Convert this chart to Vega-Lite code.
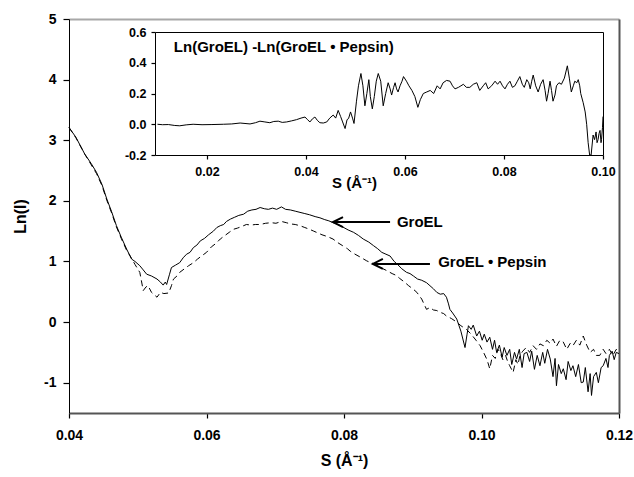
{
  "$schema": "https://vega.github.io/schema/vega-lite/v6.json",
  "width": 550,
  "height": 394,
  "autosize": "none",
  "padding": {"left": 69, "top": 19, "right": 15, "bottom": 64},
  "background": "white",
  "config": {
    "view": {"stroke": null},
    "font": "Liberation Sans",
    "axis": {
      "grid": false,
      "labelFont": "Liberation Sans",
      "labelFontWeight": "bold",
      "labelColor": "black",
      "titleFont": "Liberation Sans",
      "titleFontWeight": "bold",
      "titleColor": "black",
      "labelFlush": false,
      "labelOverlap": false,
      "domainColor": "black",
      "tickColor": "black",
      "tickWidth": 1.2,
      "tickOpacity": 1
    }
  },
  "datasets": {
    "groel": [
      {"s":0.0400,"lnI":3.21},{"s":0.0410,"lnI":3.05},{"s":0.0423,"lnI":2.77},{"s":0.0432,"lnI":2.62},{"s":0.0440,"lnI":2.47},
      {"s":0.0448,"lnI":2.27},{"s":0.0455,"lnI":2.03},{"s":0.0462,"lnI":1.82},{"s":0.0469,"lnI":1.59},{"s":0.0476,"lnI":1.40},
      {"s":0.0484,"lnI":1.20},{"s":0.0491,"lnI":1.04},{"s":0.0496,"lnI":1.00},{"s":0.0503,"lnI":0.93},{"s":0.0508,"lnI":0.86},
      {"s":0.0513,"lnI":0.79},{"s":0.0520,"lnI":0.76},{"s":0.0528,"lnI":0.71},{"s":0.0533,"lnI":0.66},{"s":0.0537,"lnI":0.61},
      {"s":0.0540,"lnI":0.66},{"s":0.0542,"lnI":0.62},{"s":0.0546,"lnI":0.78},{"s":0.0549,"lnI":0.90},{"s":0.0555,"lnI":0.94},
      {"s":0.0561,"lnI":0.98},{"s":0.0566,"lnI":1.06},{"s":0.0571,"lnI":1.12},{"s":0.0576,"lnI":1.15},{"s":0.0581,"lnI":1.23},
      {"s":0.0586,"lnI":1.27},{"s":0.0591,"lnI":1.34},{"s":0.0597,"lnI":1.38},{"s":0.0603,"lnI":1.44},{"s":0.0610,"lnI":1.50},
      {"s":0.0615,"lnI":1.56},{"s":0.0620,"lnI":1.59},{"s":0.0625,"lnI":1.61},{"s":0.0629,"lnI":1.66},{"s":0.0635,"lnI":1.70},
      {"s":0.0641,"lnI":1.73},{"s":0.0647,"lnI":1.76},{"s":0.0654,"lnI":1.78},{"s":0.0660,"lnI":1.83},{"s":0.0666,"lnI":1.85},
      {"s":0.0672,"lnI":1.86},{"s":0.0678,"lnI":1.89},{"s":0.0684,"lnI":1.87},{"s":0.0690,"lnI":1.86},{"s":0.0696,"lnI":1.88},
      {"s":0.0702,"lnI":1.86},{"s":0.0709,"lnI":1.90},{"s":0.0715,"lnI":1.86},{"s":0.0722,"lnI":1.85},{"s":0.0729,"lnI":1.83},
      {"s":0.0736,"lnI":1.81},{"s":0.0743,"lnI":1.79},{"s":0.0750,"lnI":1.77},{"s":0.0758,"lnI":1.74},{"s":0.0765,"lnI":1.72},
      {"s":0.0772,"lnI":1.69},{"s":0.0778,"lnI":1.67},{"s":0.0784,"lnI":1.64},{"s":0.0791,"lnI":1.61},{"s":0.0798,"lnI":1.57},
      {"s":0.0806,"lnI":1.52},{"s":0.0814,"lnI":1.48},{"s":0.0821,"lnI":1.43},{"s":0.0828,"lnI":1.37},{"s":0.0836,"lnI":1.32},
      {"s":0.0843,"lnI":1.26},{"s":0.0849,"lnI":1.21},{"s":0.0855,"lnI":1.15},{"s":0.0861,"lnI":1.12},{"s":0.0867,"lnI":1.09},
      {"s":0.0873,"lnI":1.00},{"s":0.0878,"lnI":0.95},{"s":0.0884,"lnI":0.88},{"s":0.0891,"lnI":0.82},{"s":0.0896,"lnI":0.80},
      {"s":0.0901,"lnI":0.76},{"s":0.0907,"lnI":0.71},{"s":0.0913,"lnI":0.69},{"s":0.0920,"lnI":0.65},{"s":0.0925,"lnI":0.60},
      {"s":0.0930,"lnI":0.55},{"s":0.0935,"lnI":0.49},{"s":0.0940,"lnI":0.46},{"s":0.0945,"lnI":0.47},{"s":0.0949,"lnI":0.41},
      {"s":0.0952,"lnI":0.30},{"s":0.0954,"lnI":0.21},{"s":0.0958,"lnI":0.15},{"s":0.0961,"lnI":0.10},{"s":0.0964,"lnI":0.05},
      {"s":0.0970,"lnI":-0.15},{"s":0.0976,"lnI":-0.42},{"s":0.0979,"lnI":-0.20},{"s":0.0981,"lnI":-0.06},{"s":0.0985,"lnI":-0.12},
      {"s":0.0988,"lnI":-0.05},{"s":0.0993,"lnI":-0.23},{"s":0.0997,"lnI":-0.15},{"s":0.1001,"lnI":-0.30},{"s":0.1004,"lnI":-0.20},
      {"s":0.1008,"lnI":-0.33},{"s":0.1012,"lnI":-0.25},{"s":0.1016,"lnI":-0.45},{"s":0.1019,"lnI":-0.30},{"s":0.1022,"lnI":-0.50},
      {"s":0.1026,"lnI":-0.38},{"s":0.1030,"lnI":-0.58},{"s":0.1033,"lnI":-0.42},{"s":0.1037,"lnI":-0.55},{"s":0.1041,"lnI":-0.45},
      {"s":0.1044,"lnI":-0.70},{"s":0.1048,"lnI":-0.50},{"s":0.1051,"lnI":-0.61},{"s":0.1055,"lnI":-0.45},{"s":0.1059,"lnI":-0.75},
      {"s":0.1062,"lnI":-0.52},{"s":0.1066,"lnI":-0.50},{"s":0.1070,"lnI":-0.65},{"s":0.1073,"lnI":-0.48},{"s":0.1077,"lnI":-0.78},
      {"s":0.1081,"lnI":-0.55},{"s":0.1085,"lnI":-0.72},{"s":0.1089,"lnI":-0.50},{"s":0.1092,"lnI":-0.68},{"s":0.1096,"lnI":-0.45},
      {"s":0.1100,"lnI":-0.61},{"s":0.1104,"lnI":-0.90},{"s":0.1107,"lnI":-0.60},{"s":0.1109,"lnI":-1.05},{"s":0.1112,"lnI":-0.70},
      {"s":0.1116,"lnI":-0.85},{"s":0.1119,"lnI":-0.77},{"s":0.1123,"lnI":-0.95},{"s":0.1126,"lnI":-0.65},{"s":0.1130,"lnI":-0.80},
      {"s":0.1133,"lnI":-0.72},{"s":0.1137,"lnI":-0.90},{"s":0.1141,"lnI":-0.70},{"s":0.1145,"lnI":-1.00},{"s":0.1148,"lnI":-0.99},
      {"s":0.1151,"lnI":-0.75},{"s":0.1155,"lnI":-1.15},{"s":0.1158,"lnI":-0.85},{"s":0.1160,"lnI":-1.21},{"s":0.1163,"lnI":-0.90},
      {"s":0.1167,"lnI":-0.83},{"s":0.1170,"lnI":-1.00},{"s":0.1174,"lnI":-0.75},{"s":0.1177,"lnI":-0.72},{"s":0.1181,"lnI":-0.60},
      {"s":0.1184,"lnI":-0.75},{"s":0.1186,"lnI":-0.55},{"s":0.1190,"lnI":-0.48},{"s":0.1193,"lnI":-0.62},{"s":0.1196,"lnI":-0.50},
      {"s":0.1200,"lnI":-0.52}
    ],
    "pepsin": [
      {"s":0.0400,"lnI":3.21},{"s":0.0410,"lnI":3.04},{"s":0.0423,"lnI":2.77},{"s":0.0432,"lnI":2.60},{"s":0.0440,"lnI":2.45},
      {"s":0.0448,"lnI":2.25},{"s":0.0455,"lnI":2.01},{"s":0.0462,"lnI":1.80},{"s":0.0469,"lnI":1.57},{"s":0.0476,"lnI":1.38},
      {"s":0.0484,"lnI":1.18},{"s":0.0489,"lnI":1.09},{"s":0.0496,"lnI":0.95},{"s":0.0503,"lnI":0.82},{"s":0.0508,"lnI":0.52},
      {"s":0.0512,"lnI":0.58},{"s":0.0515,"lnI":0.60},{"s":0.0520,"lnI":0.49},{"s":0.0524,"lnI":0.45},{"s":0.0528,"lnI":0.41},
      {"s":0.0533,"lnI":0.49},{"s":0.0538,"lnI":0.47},{"s":0.0545,"lnI":0.48},{"s":0.0549,"lnI":0.60},{"s":0.0552,"lnI":0.71},
      {"s":0.0557,"lnI":0.76},{"s":0.0561,"lnI":0.82},{"s":0.0568,"lnI":0.88},{"s":0.0574,"lnI":0.93},{"s":0.0581,"lnI":0.98},
      {"s":0.0587,"lnI":1.04},{"s":0.0594,"lnI":1.10},{"s":0.0600,"lnI":1.15},{"s":0.0607,"lnI":1.24},{"s":0.0614,"lnI":1.30},
      {"s":0.0620,"lnI":1.37},{"s":0.0627,"lnI":1.43},{"s":0.0633,"lnI":1.48},{"s":0.0639,"lnI":1.53},{"s":0.0645,"lnI":1.55},
      {"s":0.0652,"lnI":1.58},{"s":0.0658,"lnI":1.61},{"s":0.0665,"lnI":1.60},{"s":0.0671,"lnI":1.61},{"s":0.0678,"lnI":1.61},
      {"s":0.0686,"lnI":1.63},{"s":0.0694,"lnI":1.64},{"s":0.0701,"lnI":1.63},{"s":0.0709,"lnI":1.66},{"s":0.0716,"lnI":1.64},
      {"s":0.0722,"lnI":1.62},{"s":0.0729,"lnI":1.61},{"s":0.0736,"lnI":1.59},{"s":0.0743,"lnI":1.56},{"s":0.0750,"lnI":1.53},
      {"s":0.0756,"lnI":1.50},{"s":0.0760,"lnI":1.48},{"s":0.0768,"lnI":1.44},{"s":0.0776,"lnI":1.41},{"s":0.0784,"lnI":1.37},
      {"s":0.0791,"lnI":1.31},{"s":0.0798,"lnI":1.26},{"s":0.0805,"lnI":1.21},{"s":0.0809,"lnI":1.17},{"s":0.0816,"lnI":1.12},
      {"s":0.0824,"lnI":1.07},{"s":0.0833,"lnI":1.01},{"s":0.0839,"lnI":0.98},{"s":0.0845,"lnI":0.96},{"s":0.0853,"lnI":0.90},
      {"s":0.0862,"lnI":0.85},{"s":0.0870,"lnI":0.80},{"s":0.0876,"lnI":0.77},{"s":0.0881,"lnI":0.72},{"s":0.0888,"lnI":0.66},
      {"s":0.0894,"lnI":0.60},{"s":0.0901,"lnI":0.54},{"s":0.0906,"lnI":0.49},{"s":0.0913,"lnI":0.38},{"s":0.0920,"lnI":0.21},
      {"s":0.0925,"lnI":0.24},{"s":0.0930,"lnI":0.20},{"s":0.0935,"lnI":0.19},{"s":0.0940,"lnI":0.16},{"s":0.0945,"lnI":0.14},
      {"s":0.0949,"lnI":0.10},{"s":0.0956,"lnI":0.06},{"s":0.0964,"lnI":0.00},{"s":0.0970,"lnI":-0.06},{"s":0.0978,"lnI":-0.12},
      {"s":0.0985,"lnI":-0.20},{"s":0.0992,"lnI":-0.30},{"s":0.0998,"lnI":-0.39},{"s":0.1003,"lnI":-0.50},{"s":0.1008,"lnI":-0.62},
      {"s":0.1012,"lnI":-0.77},{"s":0.1016,"lnI":-0.55},{"s":0.1020,"lnI":-0.60},{"s":0.1024,"lnI":-0.45},{"s":0.1027,"lnI":-0.50},
      {"s":0.1031,"lnI":-0.62},{"s":0.1035,"lnI":-0.55},{"s":0.1038,"lnI":-0.65},{"s":0.1041,"lnI":-0.72},{"s":0.1046,"lnI":-0.83},
      {"s":0.1050,"lnI":-0.62},{"s":0.1053,"lnI":-0.70},{"s":0.1056,"lnI":-0.55},{"s":0.1060,"lnI":-0.48},{"s":0.1065,"lnI":-0.42},
      {"s":0.1070,"lnI":-0.50},{"s":0.1075,"lnI":-0.39},{"s":0.1080,"lnI":-0.45},{"s":0.1085,"lnI":-0.36},{"s":0.1090,"lnI":-0.39},
      {"s":0.1095,"lnI":-0.30},{"s":0.1100,"lnI":-0.35},{"s":0.1104,"lnI":-0.28},{"s":0.1109,"lnI":-0.40},{"s":0.1114,"lnI":-0.30},
      {"s":0.1119,"lnI":-0.33},{"s":0.1124,"lnI":-0.45},{"s":0.1129,"lnI":-0.35},{"s":0.1133,"lnI":-0.39},{"s":0.1138,"lnI":-0.30},
      {"s":0.1143,"lnI":-0.38},{"s":0.1148,"lnI":-0.23},{"s":0.1153,"lnI":-0.38},{"s":0.1158,"lnI":-0.50},{"s":0.1163,"lnI":-0.45},
      {"s":0.1167,"lnI":-0.55},{"s":0.1172,"lnI":-0.55},{"s":0.1177,"lnI":-0.45},{"s":0.1181,"lnI":-0.52},{"s":0.1186,"lnI":-0.45},
      {"s":0.1191,"lnI":-0.55},{"s":0.1196,"lnI":-0.45},{"s":0.1200,"lnI":-0.48}
    ],
    "diff": [
      {"s":0.0100,"d":0.000},{"s":0.0110,"d":-0.003},{"s":0.0122,"d":-0.002},{"s":0.0135,"d":-0.008},{"s":0.0145,"d":-0.010},
      {"s":0.0158,"d":-0.004},{"s":0.0172,"d":0.000},{"s":0.0190,"d":-0.003},{"s":0.0210,"d":-0.002},{"s":0.0233,"d":0.000},
      {"s":0.0250,"d":0.002},{"s":0.0267,"d":0.008},{"s":0.0287,"d":0.002},{"s":0.0298,"d":0.010},{"s":0.0307,"d":0.020},
      {"s":0.0317,"d":0.015},{"s":0.0327,"d":0.010},{"s":0.0335,"d":0.018},{"s":0.0344,"d":0.020},{"s":0.0352,"d":0.012},
      {"s":0.0361,"d":0.015},{"s":0.0371,"d":0.022},{"s":0.0381,"d":0.030},{"s":0.0390,"d":0.040},{"s":0.0398,"d":0.047},
      {"s":0.0403,"d":0.030},{"s":0.0408,"d":0.015},{"s":0.0413,"d":0.035},{"s":0.0418,"d":0.047},{"s":0.0423,"d":0.025},
      {"s":0.0428,"d":0.010},{"s":0.0435,"d":0.008},{"s":0.0442,"d":0.015},{"s":0.0448,"d":0.040},{"s":0.0455,"d":0.060},
      {"s":0.0460,"d":0.040},{"s":0.0465,"d":0.090},{"s":0.0470,"d":0.050},{"s":0.0474,"d":0.015},{"s":0.0479,"d":-0.028},
      {"s":0.0483,"d":0.030},{"s":0.0486,"d":0.037},{"s":0.0490,"d":0.080},{"s":0.0494,"d":0.040},{"s":0.0497,"d":0.005},
      {"s":0.0502,"d":0.150},{"s":0.0506,"d":0.250},{"s":0.0511,"d":0.330},{"s":0.0515,"d":0.250},{"s":0.0519,"d":0.120},
      {"s":0.0523,"d":0.200},{"s":0.0527,"d":0.290},{"s":0.0530,"d":0.180},{"s":0.0534,"d":0.100},{"s":0.0538,"d":0.180},
      {"s":0.0542,"d":0.280},{"s":0.0546,"d":0.330},{"s":0.0551,"d":0.280},{"s":0.0556,"d":0.120},{"s":0.0561,"d":0.200},
      {"s":0.0566,"d":0.270},{"s":0.0570,"d":0.230},{"s":0.0573,"d":0.190},{"s":0.0577,"d":0.240},{"s":0.0580,"d":0.270},
      {"s":0.0583,"d":0.230},{"s":0.0586,"d":0.210},{"s":0.0590,"d":0.250},{"s":0.0594,"d":0.280},{"s":0.0597,"d":0.310},
      {"s":0.0603,"d":0.280},{"s":0.0608,"d":0.250},{"s":0.0614,"d":0.220},{"s":0.0620,"d":0.180},{"s":0.0626,"d":0.110},
      {"s":0.0631,"d":0.160},{"s":0.0637,"d":0.200},{"s":0.0644,"d":0.210},{"s":0.0651,"d":0.220},{"s":0.0658,"d":0.200},
      {"s":0.0665,"d":0.250},{"s":0.0671,"d":0.230},{"s":0.0677,"d":0.270},{"s":0.0684,"d":0.285},{"s":0.0691,"d":0.280},
      {"s":0.0696,"d":0.250},{"s":0.0701,"d":0.230},{"s":0.0708,"d":0.240},{"s":0.0713,"d":0.250},{"s":0.0718,"d":0.260},
      {"s":0.0724,"d":0.240},{"s":0.0731,"d":0.240},{"s":0.0738,"d":0.260},{"s":0.0745,"d":0.270},{"s":0.0751,"d":0.220},
      {"s":0.0758,"d":0.250},{"s":0.0763,"d":0.270},{"s":0.0768,"d":0.230},{"s":0.0775,"d":0.250},{"s":0.0782,"d":0.280},
      {"s":0.0787,"d":0.260},{"s":0.0792,"d":0.280},{"s":0.0797,"d":0.250},{"s":0.0802,"d":0.230},{"s":0.0807,"d":0.260},
      {"s":0.0812,"d":0.280},{"s":0.0817,"d":0.240},{"s":0.0822,"d":0.250},{"s":0.0827,"d":0.280},{"s":0.0832,"d":0.310},
      {"s":0.0837,"d":0.260},{"s":0.0841,"d":0.240},{"s":0.0846,"d":0.290},{"s":0.0850,"d":0.270},{"s":0.0853,"d":0.230},
      {"s":0.0856,"d":0.280},{"s":0.0859,"d":0.320},{"s":0.0864,"d":0.250},{"s":0.0869,"d":0.210},{"s":0.0874,"d":0.260},
      {"s":0.0879,"d":0.290},{"s":0.0883,"d":0.220},{"s":0.0886,"d":0.150},{"s":0.0889,"d":0.200},{"s":0.0893,"d":0.280},
      {"s":0.0896,"d":0.220},{"s":0.0899,"d":0.150},{"s":0.0903,"d":0.190},{"s":0.0906,"d":0.250},{"s":0.0911,"d":0.270},
      {"s":0.0916,"d":0.260},{"s":0.0922,"d":0.300},{"s":0.0928,"d":0.380},{"s":0.0932,"d":0.300},{"s":0.0936,"d":0.210},
      {"s":0.0940,"d":0.250},{"s":0.0943,"d":0.280},{"s":0.0947,"d":0.270},{"s":0.0950,"d":0.290},{"s":0.0953,"d":0.250},
      {"s":0.0955,"d":0.200},{"s":0.0960,"d":0.140},{"s":0.0964,"d":0.080},{"s":0.0967,"d":0.000},{"s":0.0970,"d":-0.120},
      {"s":0.0973,"d":-0.200},{"s":0.0976,"d":-0.200},{"s":0.0980,"d":-0.070},{"s":0.0983,"d":-0.100},{"s":0.0986,"d":-0.050},
      {"s":0.0988,"d":-0.120},{"s":0.0990,"d":-0.100},{"s":0.0992,"d":-0.060},{"s":0.0994,"d":-0.040},{"s":0.0996,"d":-0.120},
      {"s":0.0997,"d":-0.100},{"s":0.0999,"d":-0.020},{"s":0.1000,"d":0.050}
    ],
    "notes": [
      {"s":0.0877,"lnI":1.65,"label":"GroEL"},
      {"s":0.0937,"lnI":0.99,"label":"GroEL • Pepsin"}
    ],
    "arrows": [
      {"from":0.0867,"to":0.0784,"lnI":1.65},
      {"from":0.0925,"to":0.0842,"lnI":0.96}
    ],
    "insetLabel": [
      {"s":0.0133,"d":0.5,"label":"Ln(GroEL) -Ln(GroEL • Pepsin)"}
    ]
  },
  "layer": [
    {
      "layer": [
        {
          "data": {"name": "groel"},
          "mark": {"type": "line", "stroke": "black", "strokeWidth": 1},
          "encoding": {
            "x": {"field": "s", "type": "quantitative",
              "scale": {"domain": [0.04, 0.12], "nice": false, "zero": false},
              "axis": {"orient": "bottom", "values": [0.04, 0.06, 0.08, 0.1, 0.12], "format": ".2f",
                "labelFontSize": 14, "ticks": true, "tickSize": 5, "labelPadding": 10,
                "domainColor": "#555555", "domainWidth": 2,
                "title": "S (Å⁻¹)", "titleFontSize": 16, "titleX": 275, "titleY": 47,
                "titleBaseline": "middle", "titleAlign": "center"}},
            "y": {"field": "lnI", "type": "quantitative",
              "scale": {"domain": [-1.5, 5], "nice": false, "zero": false},
              "axis": {"orient": "left", "values": [-1, 0, 1, 2, 3, 4, 5], "format": "d",
                "labelExpr": "replace(datum.label, '−', '-')",
                "labelFontSize": 14, "ticks": true, "tickSize": 6, "labelPadding": 7,
                "domainColor": "black", "domainWidth": 1,
                "title": "Ln(I)", "titleFontSize": 16, "titleX": -49, "titleY": 197,
                "titleAngle": -90, "titleBaseline": "middle", "titleAlign": "center"}}
          }
        },
        {
          "data": {"name": "pepsin"},
          "mark": {"type": "line", "stroke": "black", "strokeWidth": 1, "strokeDash": [6, 4]},
          "encoding": {
            "x": {"field": "s", "type": "quantitative",
              "scale": {"domain": [0.04, 0.12], "nice": false, "zero": false},
              "axis": {"orient": "top", "labels": false, "ticks": false, "title": null,
                "domainColor": "#a8a8a8", "domainWidth": 2}},
            "y": {"field": "lnI", "type": "quantitative",
              "scale": {"domain": [-1.5, 5], "nice": false, "zero": false},
              "axis": {"orient": "right", "labels": false, "ticks": false, "title": null,
                "domainColor": "#555555", "domainWidth": 2}}
          }
        },
        {
          "data": {"name": "arrows"},
          "mark": {"type": "rule", "stroke": "black", "strokeWidth": 2},
          "encoding": {
            "x": {"field": "from", "type": "quantitative", "axis": null,
              "scale": {"domain": [0.04, 0.12], "nice": false, "zero": false}},
            "x2": {"field": "to"},
            "y": {"field": "lnI", "type": "quantitative", "axis": null,
              "scale": {"domain": [-1.5, 5], "nice": false, "zero": false}}
          }
        },
        {
          "data": {"name": "arrows"},
          "mark": {"type": "point", "shape": "M 1 -0.5 L 0 0 L 1 0.5", "size": 400,
            "filled": false, "stroke": "black", "strokeWidth": 2, "opacity": 1},
          "encoding": {
            "x": {"field": "to", "type": "quantitative", "axis": null,
              "scale": {"domain": [0.04, 0.12], "nice": false, "zero": false}},
            "y": {"field": "lnI", "type": "quantitative", "axis": null,
              "scale": {"domain": [-1.5, 5], "nice": false, "zero": false}}
          }
        },
        {
          "data": {"name": "notes"},
          "mark": {"type": "text", "align": "left", "baseline": "middle", "fontSize": 15,
            "fontWeight": "bold", "font": "Liberation Sans", "color": "black"},
          "encoding": {
            "x": {"field": "s", "type": "quantitative", "axis": null,
              "scale": {"domain": [0.04, 0.12], "nice": false, "zero": false}},
            "y": {"field": "lnI", "type": "quantitative", "axis": null,
              "scale": {"domain": [-1.5, 5], "nice": false, "zero": false}},
            "text": {"field": "label"}
          }
        }
      ],
      "resolve": {"axis": {"x": "independent", "y": "independent"}}
    },
    {
      "layer": [
        {
          "data": {"name": "diff"},
          "mark": {"type": "line", "stroke": "black", "strokeWidth": 1},
          "encoding": {
            "x": {"field": "s", "type": "quantitative",
              "scale": {"domain": [0.0095, 0.1], "range": [86, 534], "nice": false, "zero": false},
              "axis": {"orient": "bottom", "offset": -258, "values": [0.02, 0.04, 0.06, 0.08, 0.1],
                "format": ".2f", "labelFontSize": 12.5, "ticks": true, "tickSize": 4, "labelPadding": 6,
                "domainColor": "black", "domainWidth": 1,
                "title": "S (Å⁻¹)", "titleFontSize": 15, "titleX": 285, "titleY": 27,
                "titleBaseline": "middle", "titleAlign": "center"}},
            "y": {"field": "d", "type": "quantitative",
              "scale": {"domain": [-0.2, 0.6], "range": [136, 13], "nice": false, "zero": false},
              "axis": {"orient": "left", "offset": -86, "values": [-0.2, 0, 0.2, 0.4, 0.6],
                "format": ".1f", "labelExpr": "replace(datum.label, '−', '-')",
                "labelFontSize": 12.5, "ticks": true, "tickSize": 4, "labelPadding": 5,
                "domainColor": "black", "domainWidth": 1, "title": null}}
          }
        },
        {
          "mark": {"type": "rule", "stroke": "black", "strokeWidth": 1.5},
          "encoding": {
            "x": {"datum": 0.0095, "type": "quantitative",
              "scale": {"domain": [0.0095, 0.1], "range": [86, 534], "nice": false, "zero": false},
              "axis": {"orient": "top", "offset": -13, "labels": false, "ticks": false, "title": null,
                "domainColor": "black", "domainWidth": 1}},
            "x2": {"datum": 0.1},
            "y": {"datum": 0, "type": "quantitative",
              "scale": {"domain": [-0.2, 0.6], "range": [136, 13], "nice": false, "zero": false},
              "axis": {"orient": "right", "offset": -16, "labels": false, "ticks": false, "title": null,
                "domainColor": "black", "domainWidth": 1}}
          }
        },
        {
          "data": {"name": "insetLabel"},
          "mark": {"type": "text", "align": "left", "baseline": "middle", "fontSize": 15,
            "fontWeight": "bold", "font": "Liberation Sans", "color": "black"},
          "encoding": {
            "x": {"field": "s", "type": "quantitative", "axis": null,
              "scale": {"domain": [0.0095, 0.1], "range": [86, 534], "nice": false, "zero": false}},
            "y": {"field": "d", "type": "quantitative", "axis": null,
              "scale": {"domain": [-0.2, 0.6], "range": [136, 13], "nice": false, "zero": false}},
            "text": {"field": "label"}
          }
        }
      ],
      "resolve": {"axis": {"x": "independent", "y": "independent"}}
    }
  ],
  "resolve": {"scale": {"x": "independent", "y": "independent"}, "axis": {"x": "independent", "y": "independent"}}
}
